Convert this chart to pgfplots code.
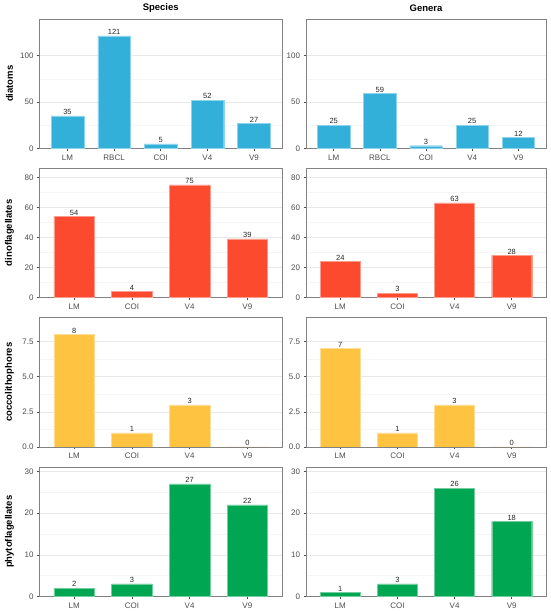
\documentclass[border=0pt]{standalone}
\usepackage{fontspec}
\setmainfont{Liberation Sans}
\usepackage{pgfplots}
\pgfplotsset{compat=1.18}
\definecolor{cdia}{RGB}{50,176,217}
\definecolor{cdin}{RGB}{252,74,46}
\definecolor{ccoc}{RGB}{254,195,64}
\definecolor{cphy}{RGB}{0,166,81}
\definecolor{frame}{RGB}{130,130,130}
\definecolor{ticklab}{RGB}{77,77,77}
\pgfplotsset{
  every axis title shift=0pt,
  panel/.style={
    scale only axis, height=129.5pt,
    ybar, bar width=0.7, bar shift=0pt,
    ymin=0, enlargelimits=false, xmin=0.4,
    axis line style={draw=frame, line width=0.7pt},
    tick pos=left, tick align=outside,
    major tick length=2.5pt, minor tick length=0pt,
    every tick/.style={draw=ticklab, line width=0.5pt},
    ymajorgrids, yminorgrids, minor y tick num=1,
    major grid style={draw=black!9, line width=0.5pt},
    minor grid style={draw=black!4, line width=0.4pt},
    ticklabel style={font=\fontsize{8}{9}\selectfont, text=ticklab},
    /pgf/number format/assume math mode=true,
    nodes near coords,
    nodes near coords style={font=\fontsize{7.5}{8}\selectfont, text=black!85, anchor=south, inner sep=1pt},
    ylabel style={font=\bfseries\fontsize{9.5}{10}\selectfont, at={(axis description cs:-0.124,0.5)}, anchor=center},
    title style={font=\bfseries\fontsize{9.5}{10}\selectfont, at={(axis description cs:0.5,1.085)}, anchor=center},
  },
  five/.style={xmax=5.6, xtick={1,2,3,4,5}, xticklabels={LM,RBCL,COI,V4,V9}},
  four/.style={xmax=4.6, xtick={1,2,3,4}, xticklabels={LM,COI,V4,V9}},
  L/.style={width=242.5pt, at={(39.5pt,#1)}, anchor=north west},
  R/.style={width=240pt, at={(306pt,#1)}, anchor=north west},
}
\begin{document}
\begin{tikzpicture}
\useasboundingbox (0,0) rectangle (550pt,-614pt);
% Row 1: diatoms
\begin{axis}[panel, five, L={-19pt}, ymax=139.15, ytick={0,50,100}, ylabel={diatoms}, title={Species}]
\addplot[fill=cdia, draw=cdia!55!white, line width=0.4pt] coordinates {(1,35) (2,121) (3,5) (4,52) (5,27)};
\end{axis}
\begin{axis}[panel, five, R={-19pt}, ymax=139.15, ytick={0,50,100}, title={Genera}]
\addplot[fill=cdia, draw=cdia!55!white, line width=0.4pt] coordinates {(1,25) (2,59) (3,3) (4,25) (5,12)};
\end{axis}
% Row 2: dinoflagellates
\begin{axis}[panel, four, L={-168pt}, ymax=86.25, ytick={0,20,40,60,80}, ylabel={dinoflagellates}]
\addplot[fill=cdin, draw=cdin!55!white, line width=0.4pt] coordinates {(1,54) (2,4) (3,75) (4,39)};
\end{axis}
\begin{axis}[panel, four, R={-168pt}, ymax=86.25, ytick={0,20,40,60,80}]
\addplot[fill=cdin, draw=cdin!55!white, line width=0.4pt] coordinates {(1,24) (2,3) (3,63) (4,28)};
\end{axis}
% Row 3: coccolithophores
\begin{axis}[panel, four, L={-317.5pt}, ymax=9.2, ytick={0,2.5,5,7.5},
  yticklabel style={/pgf/number format/.cd, fixed, fixed zerofill, precision=1}, ylabel={coccolithophores}]
\addplot[fill=ccoc, draw=ccoc!55!white, line width=0.4pt] coordinates {(1,8) (2,1) (3,3) (4,0)};
\end{axis}
\begin{axis}[panel, four, R={-317.5pt}, ymax=9.2, ytick={0,2.5,5,7.5},
  yticklabel style={/pgf/number format/.cd, fixed, fixed zerofill, precision=1}]
\addplot[fill=ccoc, draw=ccoc!55!white, line width=0.4pt] coordinates {(1,7) (2,1) (3,3) (4,0)};
\end{axis}
% Row 4: phytoflagellates
\begin{axis}[panel, four, L={-467pt}, ymax=31.05, ytick={0,10,20,30}, ylabel={phytoflagellates}]
\addplot[fill=cphy, draw=cphy!55!white, line width=0.4pt] coordinates {(1,2) (2,3) (3,27) (4,22)};
\end{axis}
\begin{axis}[panel, four, R={-467pt}, ymax=31.05, ytick={0,10,20,30}]
\addplot[fill=cphy, draw=cphy!55!white, line width=0.4pt] coordinates {(1,1) (2,3) (3,26) (4,18)};
\end{axis}
\end{tikzpicture}
\end{document}
